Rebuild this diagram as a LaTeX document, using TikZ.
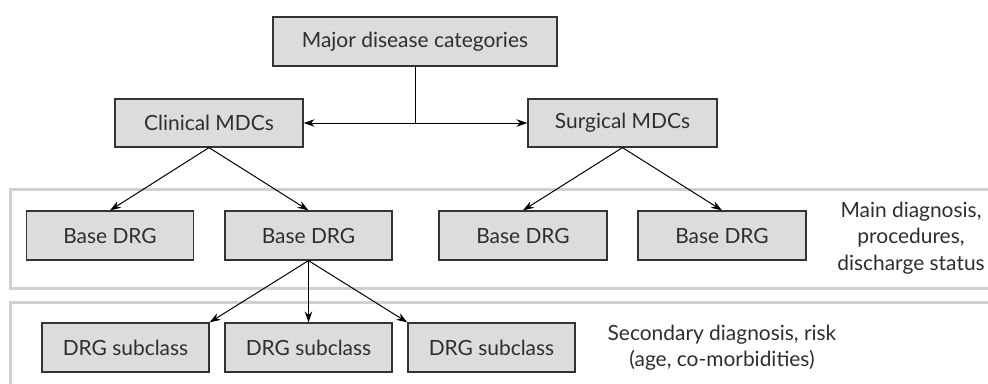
\documentclass[tikz,border=0pt]{standalone}
\usepackage{fontspec}
\setmainfont{Lato}
\usetikzlibrary{arrows.meta}
\definecolor{boxfill}{HTML}{DCDCDE}
\definecolor{boxline}{HTML}{333333}
\definecolor{bandline}{HTML}{D0D0D0}
\definecolor{inktext}{HTML}{2E2E2E}
\tikzset{
  catbox/.style={draw=boxline, fill=boxfill, line width=1.2bp, inner sep=0pt,
    minimum height=49bp, text=inktext, font=\fontsize{21}{26}\selectfont},
  link/.style={draw=black, line width=1bp, -{Stealth[length=11bp,width=7.5bp]}},
  plainlink/.style={draw=black, line width=1bp},
  band/.style={draw=bandline, line width=3bp},
  bandlabel/.style={align=center, text=inktext, font=\fontsize{21}{26.5}\selectfont}
}
\begin{document}
\begin{tikzpicture}[x=1bp, y=-1bp]
  \useasboundingbox (0,0) rectangle (988,383);
  \clip (0,0) rectangle (988,383);

  % grey level bands (open on the right, the lower one also at the bottom)
  \draw[band] (1000,189) -| (10,288) -- (1000,288);
  \draw[band] (1000,302) -| (10,400);

  % hierarchy boxes
  \node[catbox, minimum width=284bp] (mdc) at (415,41.5) {Major disease categories};
  \node[catbox, minimum width=188bp, minimum height=48bp] (clin) at (209,123) {Clinical MDCs};
  \node[catbox, minimum width=189bp, minimum height=48bp] (surg) at (622.5,123) {Surgical MDCs};

  \node[catbox, minimum width=167bp] (b1) at (110,235.5) {Base DRG};
  \node[catbox, minimum width=167bp] (b2) at (308.5,235.5) {Base DRG};
  \node[catbox, minimum width=168bp] (b3) at (523,235.5) {Base DRG};
  \node[catbox, minimum width=168bp] (b4) at (722,235.5) {Base DRG};

  \node[catbox, minimum width=167bp] (s1) at (125.5,347.5) {DRG subclass};
  \node[catbox, minimum width=167bp] (s2) at (308.5,347.5) {DRG subclass};
  \node[catbox, minimum width=167bp] (s3) at (491.5,347.5) {DRG subclass};

  % band labels
  \node[bandlabel] (lab1) at (911,238) {Main diagnosis,\\procedures,\\discharge status};
  \node[bandlabel] (lab2) at (722,347.5) {Secondary diagnosis, risk\\(age, co-morbidities)};

  % connectors
  \coordinate (split) at (mdc.south |- clin.east);
  \draw[plainlink] (mdc.south) -- (split);
  \draw[link] (split) -- (clin.east);
  \draw[link] (split) -- (surg.west);

  \draw[link] (clin.south) -- (b1.north);
  \draw[link] (clin.south) -- (b2.north);
  \draw[link] (surg.south) -- (b3.north);
  \draw[link] (surg.south) -- (b4.north);

  \draw[link] (b2.south) -- (s1.north east);
  \draw[link] (b2.south) -- (s2.north);
  \draw[link] (b2.south) -- (s3.north west);
\end{tikzpicture}
\end{document}
